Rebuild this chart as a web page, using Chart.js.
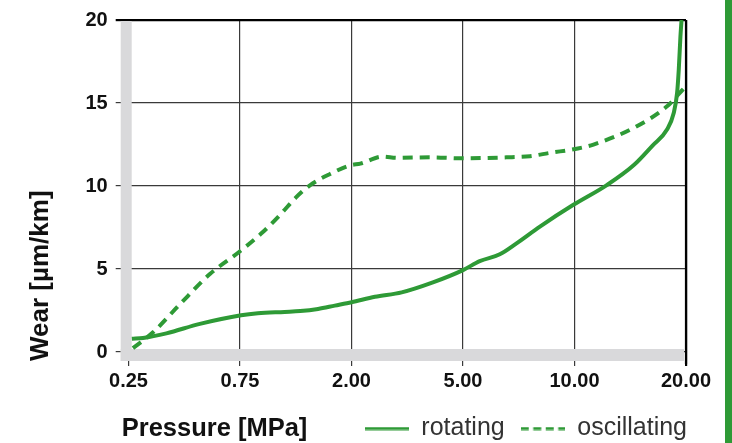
<!DOCTYPE html>
<html>
<head>
<meta charset="utf-8">
<script src="https://cdn.jsdelivr.net/npm/chart.js@4.4.0/dist/chart.umd.min.js"></script>
<style>
  html, body { margin: 0; padding: 0; background: #fff; }
  #wrap { width: 732px; height: 443px; }
</style>
</head>
<body>
<div id="wrap"><canvas id="grafica" width="732" height="443"></canvas></div>
<script>
  // etiquetas del eje x (marcas equiespaciadas, no es escala log)
  const pressureLabels = ['0.25', '0.75', '2.00', '5.00', '10.00', '20.00'];
  const wearTicks = [0, 5, 10, 15, 20];

  // x = posición en el eje (0 = 0.25 ... 5 = 20.00), y = desgaste
  const rotX = [0.03, 0.13, 0.34, 0.64, 1.01, 1.16, 1.40, 1.54, 1.70, 1.85, 2.00, 2.21, 2.45, 2.73, 3.00, 3.15, 3.33, 3.48, 3.69, 3.99, 4.29, 4.53, 4.70, 4.83, 4.89, 4.92, 4.935, 4.95, 4.96];
  const rotY = [0.80, 0.85, 1.13, 1.70, 2.22, 2.34, 2.42, 2.47, 2.60, 2.80, 3.00, 3.33, 3.60, 4.20, 4.94, 5.48, 5.89, 6.55, 7.56, 8.87, 10.06, 11.25, 12.44, 13.40, 14.40, 15.60, 17.00, 19.00, 20.00];

  const oscX = [0.04, 0.22, 0.45, 0.73, 1.00, 1.20, 1.36, 1.50, 1.63, 1.80, 1.99, 2.08, 2.28, 2.41, 2.70, 3.00, 3.39, 3.60, 3.78, 4.03, 4.17, 4.53, 4.83, 4.97, 5.00];
  const oscY = [0.24, 1.19, 2.80, 4.70, 6.07, 7.20, 8.27, 9.30, 10.06, 10.70, 11.25, 11.35, 11.78, 11.70, 11.73, 11.67, 11.73, 11.80, 12.00, 12.26, 12.50, 13.50, 14.80, 15.80, 16.00];

  const verde = '#2e9a36';
  const fuente = '"Liberation Sans", Arial, sans-serif';

  // muestra de línea para la leyenda (con o sin guiones)
  function lineaMuestra(dash) {
    const cv = document.createElement('canvas');
    cv.width = 44;
    cv.height = 4;
    const c = cv.getContext('2d');
    c.strokeStyle = verde;
    c.lineWidth = 3.2;
    c.setLineDash(dash);
    c.beginPath();
    c.moveTo(0, 2);
    c.lineTo(44, 2);
    c.stroke();
    return cv;
  }

  // bandas grises, bordes y título del eje x
  const marco = {
    id: 'marco',
    beforeDraw(chart) {
      const c = chart.ctx;
      c.save();
      c.fillStyle = verde;
      c.fillRect(725, 0, 7, chart.height);
      c.restore();
    },
    beforeDatasetsDraw(chart) {
      const c = chart.ctx;
      const a = chart.chartArea;
      c.save();
      c.fillStyle = '#d9d9db';
      c.fillRect(a.left, a.top + 1, 11, a.bottom - a.top - 1);
      c.fillRect(a.left, a.bottom - 12, a.right - a.left - 2, 12);
      c.strokeStyle = '#000';
      c.lineWidth = 2.2;
      c.beginPath();
      c.moveTo(a.right, a.top);
      c.lineTo(a.right, a.bottom + 3);
      c.stroke();
      c.restore();
    },
    afterDraw(chart) {
      const c = chart.ctx;
      const leg = chart.legend;
      const yFila = leg.top + leg.options.labels.padding + 12.5;
      c.save();
      c.font = 'bold 25.5px ' + fuente;
      c.fillStyle = '#111';
      c.textBaseline = 'middle';
      c.textAlign = 'left';
      c.fillText('Pressure [MPa]', chart.chartArea.left + 1, yFila);
      c.restore();
    }
  };

  const ctx = document.getElementById('grafica').getContext('2d');
  window.miGrafica = new Chart(ctx, {
    type: 'line',
    data: {
      datasets: [{
        label: 'rotating',
        data: rotX.map((x, i) => ({ x: x, y: rotY[i] })),
        borderColor: verde,
        borderWidth: 4,
        pointRadius: 0,
        pointStyle: lineaMuestra([]),
        fill: false,
        cubicInterpolationMode: 'monotone'
      }, {
        label: 'oscillating',
        data: oscX.map((x, i) => ({ x: x, y: oscY[i] })),
        borderColor: verde,
        borderWidth: 4,
        borderDash: [10, 7],
        pointRadius: 0,
        pointStyle: lineaMuestra([8, 4.5]),
        fill: false,
        cubicInterpolationMode: 'monotone'
      }]
    },
    options: {
      responsive: false,
      animation: false,
      devicePixelRatio: 1,
      layout: { padding: { left: 0, top: 16, right: 29, bottom: -8 } },
      plugins: {
        legend: {
          position: 'bottom',
          align: 'end',
          labels: {
            usePointStyle: true,
            pointStyleWidth: 44,
            padding: 16,
            color: '#333',
            font: { family: fuente, size: 25 }
          }
        },
        tooltip: { enabled: false }
      },
      scales: {
        x: {
          type: 'linear',
          min: -0.07,
          max: 5,
          afterBuildTicks: s => { s.ticks = pressureLabels.map((_, i) => ({ value: i })); },
          afterFit: s => { s.height = 39; },
          ticks: {
            callback: (v, i) => pressureLabels[i],
            color: '#111',
            font: { family: fuente, size: 20, weight: 'bold' },
            padding: 3,
            maxRotation: 0,
            autoSkip: false
          },
          grid: {
            color: c => (c.tick && c.tick.value === 5) ? '#000' : '#3a3a3a',
            lineWidth: c => (c.tick && c.tick.value === 5) ? 2.2 : 1.2,
            tickLength: 5
          },
          border: { display: false }
        },
        y: {
          min: -0.536,
          max: 20,
          afterBuildTicks: s => { s.ticks = wearTicks.map(v => ({ value: v })); },
          afterFit: s => { s.width = 120.7; },
          ticks: {
            color: '#111',
            font: { family: fuente, size: 20, weight: 'bold' },
            padding: 8
          },
          grid: {
            color: c => (c.tick && c.tick.value === 20) ? '#000' : '#3a3a3a',
            lineWidth: c => (c.tick && c.tick.value === 20) ? 2.2 : 1.2,
            tickLength: 5
          },
          border: { display: false },
          title: {
            display: true,
            text: 'Wear [µm/km]',
            align: 'start',
            color: '#111',
            font: { family: fuente, size: 26, weight: 'bold', lineHeight: 1.2 },
            padding: { top: 25, bottom: 0 }
          }
        },
        y2: {
          position: 'right',
          afterFit: s => { s.width = 17; },
          ticks: { display: false },
          grid: { display: false },
          border: { display: false }
        }
      }
    },
    plugins: [marco]
  });
</script>
</body>
</html>
